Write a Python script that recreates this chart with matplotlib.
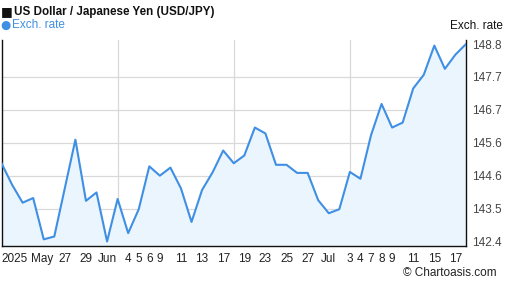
import matplotlib
matplotlib.use("Agg")
import matplotlib.pyplot as plt
import numpy as np

# USD/JPY daily rate, business days 2025-05-19 .. 2025-07-18
rates = [144.96, 144.27, 143.69, 143.84, 142.51, 142.60, 144.16, 145.72, 143.75, 144.02,
         142.44, 143.81, 142.71, 143.48, 144.86, 144.56, 144.82, 144.15, 143.07, 144.10,
         144.67, 145.37, 144.96, 145.21, 146.11, 145.92, 144.91, 144.91, 144.65, 144.65,
         143.77, 143.35, 143.48, 144.68, 144.46, 145.86, 146.87, 146.11, 146.27, 147.37,
         147.81, 148.75, 148.00, 148.46, 148.80]
tick_pos = [0, 3.85, 6, 8, 10, 12, 13, 14, 15, 17, 19, 21, 23, 25, 27, 29, 31, 33, 34, 35, 36, 37, 39, 41, 43]
tick_labels = ["2025", "May", "27", "29", "Jun", "4", "5", "6", "9", "11", "13", "17", "19",
               "23", "25", "27", "Jul", "3", "4", "7", "8", "9", "11", "15", "17"]

line_color = "#3f8fe4"
fill_color = "#ebf5fe"
fonts = ["Liberation Sans", "DejaVu Sans"]
plt.rcParams["font.family"] = fonts

W, H = 507, 288
fig = plt.figure(figsize=(W / 100, H / 100), dpi=100)
ax = fig.add_axes([1.5 / W, (H - 246) / H, (466 - 1.5) / W, (246 - 40) / H])

x = np.arange(len(rates))
ymin, ymax = min(rates), max(rates)
ax.fill_between(x, rates, ymin - 1, color=fill_color, lw=0, zorder=1)
ax.plot(x, rates, color=line_color, lw=1.5, zorder=3)

ax.set_xlim(0, len(rates) - 1)
ax.set_ylim(ymin - 0.145, ymax + 0.13)

yt = np.linspace(ymin, ymax, 7)
ax.set_yticks(yt)
ax.set_yticklabels([f"{v:.1f}" for v in yt])
ax.yaxis.tick_right()
ax.set_xticks(tick_pos)
ax.set_xticklabels(tick_labels)
ax.get_xticklabels()[0].set_ha("left")
ax.tick_params(axis="both", length=0, labelsize=8.5)
ax.tick_params(axis="y", pad=4.5, labelcolor="#444444")
ax.tick_params(axis="x", pad=5, labelcolor="#222222")

# grid: horizontal lines at inner ticks, vertical lines at quarters
for v in yt[1:-1]:
    ax.axhline(v, color="#d9d9d9", lw=0.9, zorder=0)
for q in [11, 22, 33]:
    ax.axvline(q, color="#d9d9d9", lw=0.9, zorder=0)

ax.spines["top"].set_visible(False)
for s in ["left", "right", "bottom"]:
    ax.spines[s].set_color("#111111")
    ax.spines[s].set_linewidth(1.0)

fig.text(1 / W, 1 - 12 / H, "■", fontsize=9, va="center", ha="left", color="#111111", family=["DejaVu Sans"])
fig.text(14 / W, 1 - 12 / H, "US Dollar / Japanese Yen (USD/JPY)", fontsize=8.4, fontweight="bold",
         va="center", ha="left", color="#111111")
fig.text(0 / W, 1 - 25 / H, "●", fontsize=8.5, va="center", ha="left", color=line_color, family=["DejaVu Sans"])
fig.text(11.5 / W, 1 - 25 / H, "Exch. rate", fontsize=8.5, va="center", ha="left", color=line_color)
fig.text(503 / W, 1 - 26 / H, "Exch. rate", fontsize=8.5, va="center", ha="right", color="#111111")
fig.text(497 / W, 1 - 273 / H, "© Chartoasis.com", fontsize=8.5, va="center", ha="right", color="#222222")

fig.savefig("out.png", dpi=100)
